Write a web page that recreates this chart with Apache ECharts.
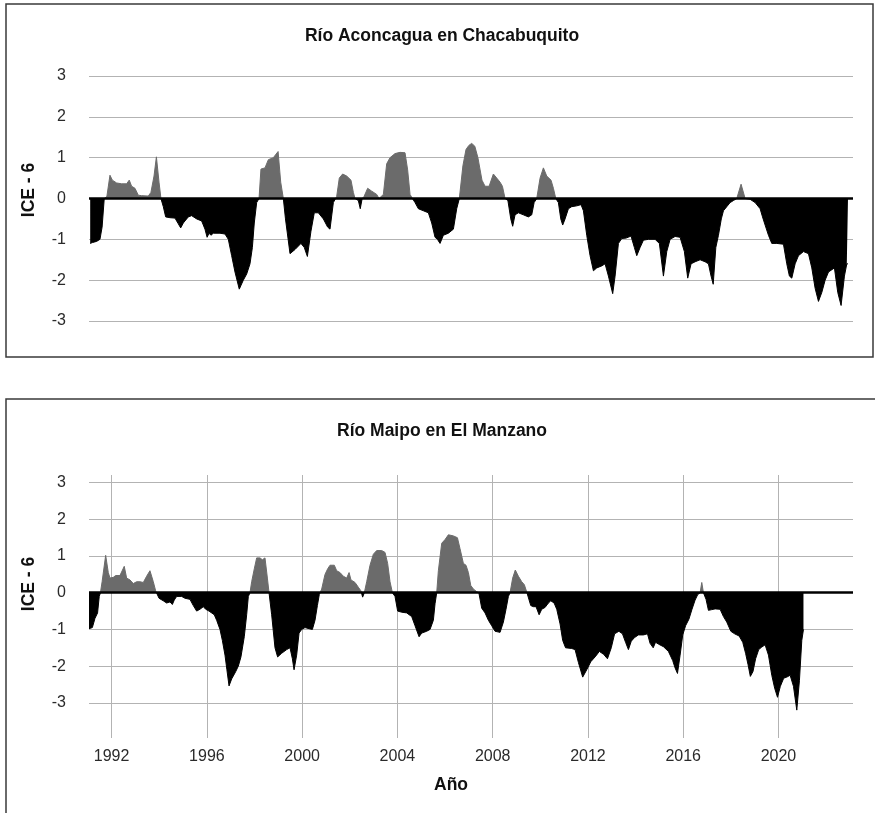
<!DOCTYPE html>
<html><head><meta charset="utf-8">
<script src="https://cdn.jsdelivr.net/npm/echarts@6/dist/echarts.min.js"></script>
<style>html,body{margin:0;padding:0;background:#fff}#c{width:875px;height:813px}</style>
</head><body><div id="c"></div>
<script>
const titles = ['Río Aconcagua en Chacabuquito', 'Río Maipo en El Manzano'];
const yAxisName = 'ICE - 6';
const xAxisName = 'Año';
const yearTicks = [1992, 1996, 2000, 2004, 2008, 2012, 2016, 2020];

const aconcaguaYears = [1991.10,1991.19,1991.37,1991.51,1991.60,1991.69,1991.80,1991.93,1992.03,1992.21,1992.42,1992.63,1992.74,1992.84,1992.98,1993.12,1993.26,1993.54,1993.65,1993.78,1993.88,1993.99,1994.07,1994.17,1994.27,1994.45,1994.66,1994.80,1994.90,1995.01,1995.22,1995.36,1995.57,1995.78,1995.92,1996.01,1996.09,1996.17,1996.27,1996.55,1996.76,1996.90,1997.04,1997.18,1997.36,1997.53,1997.67,1997.81,1997.91,1997.99,1998.09,1998.19,1998.27,1998.44,1998.58,1998.79,1998.99,1999.10,1999.21,1999.30,1999.49,1999.70,1999.95,2000.09,2000.22,2000.37,2000.51,2000.68,2000.89,2001.07,2001.17,2001.31,2001.45,2001.56,2001.70,2001.87,2002.05,2002.15,2002.22,2002.36,2002.44,2002.52,2002.60,2002.75,2002.92,2003.13,2003.23,2003.41,2003.55,2003.69,2003.90,2004.11,2004.32,2004.43,2004.53,2004.63,2004.74,2004.88,2005.09,2005.30,2005.44,2005.58,2005.68,2005.79,2005.93,2006.14,2006.35,2006.49,2006.60,2006.75,2006.88,2007.00,2007.12,2007.25,2007.38,2007.55,2007.68,2007.85,2008.03,2008.17,2008.31,2008.41,2008.52,2008.64,2008.76,2008.84,2008.94,2009.08,2009.29,2009.50,2009.64,2009.74,2009.85,2009.99,2010.13,2010.27,2010.45,2010.55,2010.65,2010.76,2010.86,2010.94,2011.04,2011.18,2011.32,2011.53,2011.71,2011.81,2011.95,2012.09,2012.23,2012.37,2012.58,2012.72,2012.86,2013.04,2013.14,2013.28,2013.42,2013.60,2013.81,2013.95,2014.05,2014.19,2014.33,2014.54,2014.82,2015.00,2015.17,2015.31,2015.45,2015.66,2015.87,2016.05,2016.19,2016.33,2016.50,2016.71,2016.92,2017.06,2017.17,2017.26,2017.37,2017.48,2017.60,2017.69,2017.83,2017.97,2018.11,2018.25,2018.43,2018.60,2018.81,2019.02,2019.23,2019.33,2019.44,2019.58,2019.72,2019.93,2020.21,2020.35,2020.46,2020.56,2020.70,2020.84,2021.05,2021.26,2021.40,2021.54,2021.68,2021.82,2021.96,2022.10,2022.35,2022.49,2022.63,2022.77,2022.87,2022.92];
const aconcaguaValues = [-1.10,-1.08,-1.05,-1.00,-0.70,0.00,0.05,0.57,0.45,0.38,0.36,0.36,0.45,0.30,0.25,0.08,0.07,0.06,0.15,0.55,1.02,0.40,0.00,-0.20,-0.45,-0.47,-0.48,-0.62,-0.72,-0.60,-0.45,-0.42,-0.50,-0.55,-0.75,-0.95,-0.85,-0.90,-0.85,-0.85,-0.87,-1.00,-1.40,-1.80,-2.22,-2.00,-1.85,-1.60,-1.20,-0.60,-0.10,0.00,0.72,0.75,0.95,1.00,1.15,0.40,0.00,-0.50,-1.35,-1.25,-1.10,-1.20,-1.42,-0.80,-0.35,-0.35,-0.50,-0.70,-0.75,-0.10,0.05,0.50,0.60,0.55,0.45,0.15,0.00,-0.05,-0.25,0.00,0.05,0.25,0.18,0.10,0.00,0.10,0.85,1.00,1.10,1.13,1.12,0.70,0.10,0.00,-0.10,-0.25,-0.30,-0.35,-0.60,-0.95,-1.00,-1.10,-0.90,-0.85,-0.75,-0.25,0.00,0.80,1.20,1.30,1.35,1.28,1.00,0.45,0.30,0.30,0.60,0.50,0.40,0.30,0.00,-0.05,-0.50,-0.68,-0.40,-0.35,-0.40,-0.45,-0.40,-0.10,0.00,0.50,0.75,0.55,0.45,0.25,0.00,-0.10,-0.50,-0.65,-0.50,-0.25,-0.20,-0.18,-0.15,-0.30,-0.90,-1.40,-1.77,-1.70,-1.65,-1.60,-1.90,-2.33,-1.90,-1.10,-0.98,-0.97,-0.92,-1.20,-1.40,-1.20,-1.02,-1.00,-1.00,-1.10,-1.90,-1.30,-1.00,-0.93,-0.95,-1.30,-1.95,-1.60,-1.55,-1.50,-1.55,-1.60,-1.90,-2.10,-1.20,-0.90,-0.50,-0.30,-0.20,-0.10,-0.05,0.00,0.35,0.00,-0.02,-0.10,-0.25,-0.45,-0.65,-0.90,-1.10,-1.10,-1.12,-1.60,-1.90,-1.95,-1.60,-1.40,-1.30,-1.35,-1.70,-2.20,-2.52,-2.30,-2.00,-1.80,-1.70,-2.30,-2.62,-1.90,-1.60,-1.60];

const maipoYears = [1991.05,1991.19,1991.30,1991.41,1991.48,1991.53,1991.60,1991.75,1991.86,1991.93,1992.07,1992.17,1992.35,1992.42,1992.53,1992.63,1992.77,1992.91,1993.05,1993.19,1993.33,1993.47,1993.61,1993.75,1993.85,1993.93,1993.99,1994.17,1994.31,1994.45,1994.55,1994.63,1994.73,1994.94,1995.08,1995.29,1995.43,1995.57,1995.71,1995.85,1995.95,1996.09,1996.20,1996.31,1996.41,1996.55,1996.65,1996.76,1996.84,1996.93,1997.04,1997.21,1997.32,1997.43,1997.57,1997.67,1997.74,1997.81,1997.88,1997.99,1998.09,1998.23,1998.33,1998.44,1998.54,1998.61,1998.72,1998.86,1998.97,1999.14,1999.35,1999.49,1999.59,1999.66,1999.77,1999.87,1999.98,2000.12,2000.29,2000.43,2000.54,2000.64,2000.72,2000.82,2000.96,2001.07,2001.17,2001.35,2001.45,2001.59,2001.73,2001.87,2001.97,2002.05,2002.22,2002.36,2002.47,2002.54,2002.61,2002.71,2002.85,2002.99,2003.13,2003.34,2003.48,2003.59,2003.69,2003.79,2003.90,2004.01,2004.18,2004.39,2004.60,2004.74,2004.91,2005.02,2005.23,2005.37,2005.51,2005.58,2005.65,2005.72,2005.86,2006.00,2006.14,2006.35,2006.52,2006.63,2006.77,2006.88,2006.98,2007.08,2007.19,2007.33,2007.42,2007.54,2007.68,2007.82,2007.96,2008.10,2008.31,2008.45,2008.56,2008.66,2008.73,2008.84,2008.95,2009.08,2009.22,2009.33,2009.43,2009.50,2009.60,2009.71,2009.82,2009.95,2010.06,2010.20,2010.34,2010.44,2010.58,2010.69,2010.83,2010.94,2011.06,2011.32,2011.46,2011.60,2011.78,2011.95,2012.12,2012.30,2012.48,2012.66,2012.82,2012.98,2013.12,2013.30,2013.45,2013.58,2013.70,2013.82,2013.96,2014.12,2014.33,2014.50,2014.61,2014.74,2014.84,2014.96,2015.17,2015.38,2015.56,2015.66,2015.76,2015.87,2015.98,2016.10,2016.24,2016.37,2016.50,2016.61,2016.71,2016.78,2016.85,2016.96,2017.06,2017.20,2017.34,2017.55,2017.69,2017.83,2018.00,2018.16,2018.35,2018.50,2018.62,2018.72,2018.82,2018.93,2019.04,2019.17,2019.30,2019.44,2019.58,2019.72,2019.84,2019.96,2020.08,2020.22,2020.35,2020.49,2020.63,2020.77,2020.88,2020.98,2021.05];
const maipoValues = [-0.98,-0.95,-0.70,-0.55,-0.10,0.00,0.30,1.02,0.55,0.40,0.42,0.47,0.47,0.45,0.72,0.40,0.35,0.25,0.30,0.30,0.28,0.45,0.60,0.30,0.05,0.00,-0.15,-0.22,-0.28,-0.25,-0.32,-0.20,-0.10,-0.10,-0.15,-0.18,-0.35,-0.50,-0.45,-0.38,-0.45,-0.50,-0.55,-0.60,-0.75,-1.00,-1.30,-1.70,-2.10,-2.54,-2.35,-2.15,-2.00,-1.75,-1.20,-0.60,-0.10,0.00,0.30,0.65,0.95,0.95,0.90,0.95,0.40,0.00,-0.60,-1.50,-1.75,-1.65,-1.55,-1.50,-1.80,-2.10,-1.70,-1.10,-1.00,-0.95,-0.98,-1.00,-0.75,-0.35,-0.05,0.10,0.50,0.65,0.75,0.75,0.60,0.55,0.45,0.40,0.55,0.35,0.28,0.15,0.05,-0.12,0.00,0.30,0.75,1.05,1.15,1.15,1.10,0.80,0.30,0.00,-0.10,-0.50,-0.53,-0.55,-0.65,-0.90,-1.20,-1.10,-1.05,-1.00,-0.75,-0.30,0.00,0.60,1.35,1.45,1.58,1.55,1.50,1.20,0.80,0.75,0.55,0.20,0.10,0.03,0.00,-0.42,-0.55,-0.75,-0.90,-1.05,-1.08,-0.80,-0.45,-0.10,0.00,0.40,0.62,0.45,0.30,0.22,0.02,0.00,-0.35,-0.38,-0.38,-0.60,-0.45,-0.40,-0.28,-0.22,-0.28,-0.45,-0.85,-1.30,-1.50,-1.52,-1.55,-1.90,-2.30,-2.10,-1.88,-1.75,-1.60,-1.68,-1.80,-1.50,-1.12,-1.05,-1.12,-1.35,-1.55,-1.32,-1.22,-1.15,-1.15,-1.12,-1.38,-1.50,-1.35,-1.40,-1.47,-1.60,-1.85,-2.05,-2.20,-1.70,-1.15,-0.90,-0.72,-0.45,-0.20,-0.05,0.00,0.28,0.00,-0.18,-0.48,-0.46,-0.44,-0.45,-0.65,-0.80,-1.05,-1.12,-1.18,-1.35,-1.65,-1.95,-2.28,-2.15,-1.80,-1.55,-1.48,-1.42,-1.70,-2.25,-2.60,-2.85,-2.55,-2.33,-2.30,-2.25,-2.55,-3.20,-2.40,-1.30,-1.00];

const zip = (xs, ys) => xs.map((x, i) => [x, ys[i]]);
const NEG = '#000000', POS = '#6b6b6b';
const boldFont = "bold 17.5px 'Liberation Sans', Arial, sans-serif";
const tickFont = { fontFamily: "'Liberation Sans', Arial, sans-serif", fontSize: 16, color: '#2a2a2a' };
const gridLine = { show: true, lineStyle: { color: '#b3b3b3', width: 1 } };

// two-tone fill: grey above zero, black below (split at the zero level of the series' own extent)
function splitGradient(values) {
  const hi = Math.max(0, ...values), lo = Math.min(0, ...values);
  const f = hi / (hi - lo);
  return new echarts.graphic.LinearGradient(0, 0, 0, 1, [
    { offset: 0, color: POS }, { offset: f, color: POS },
    { offset: f, color: NEG }, { offset: 1, color: NEG }
  ]);
}

function areaSeries(idx, xs, ys) {
  const g = splitGradient(ys);
  return {
    type: 'line', xAxisIndex: idx, yAxisIndex: idx, data: zip(xs, ys),
    symbol: 'none', showSymbol: false,
    itemStyle: { color: g },
    lineStyle: { width: 1, color: g },
    areaStyle: { opacity: 1, color: g },
    markLine: {
      silent: true, symbol: ['none', 'none'], label: { show: false },
      lineStyle: { color: '#000', width: 2.5, type: 'solid' },
      data: [{ yAxis: 0 }]
    }
  };
}

const chart = echarts.init(document.getElementById('c'), null, { renderer: 'canvas' });
chart.setOption({
  animation: false,
  backgroundColor: '#fff',
  grid: [
    { left: 89, right: 22, top: 76, height: 245 },
    { left: 89, right: 22, top: 475, height: 263 }
  ],
  xAxis: [
    { type: 'value', gridIndex: 0, min: 1991.05, max: 2023.13, show: false },
    { type: 'value', gridIndex: 1, min: 1991.05, max: 2023.13,
      axisLine: { show: false }, axisTick: { show: false, customValues: yearTicks },
      axisLabel: { customValues: yearTicks, margin: 11, formatter: v => String(Math.round(v)), ...tickFont },
      splitLine: gridLine }
  ],
  yAxis: [
    { type: 'value', gridIndex: 0, min: -3, max: 3, interval: 1,
      axisLine: { show: false }, axisTick: { show: false },
      axisLabel: { margin: 23, ...tickFont }, splitLine: gridLine },
    { type: 'value', gridIndex: 1, min: -3.96, max: 3.21, splitNumber: 7,
      axisLine: { show: false }, axisTick: { show: false },
      axisLabel: { margin: 23, showMinLabel: false, showMaxLabel: false, ...tickFont },
      splitLine: { show: true, showMinLine: false, showMaxLine: false, lineStyle: { color: '#b3b3b3', width: 1 } } }
  ],
  series: [
    areaSeries(0, aconcaguaYears, aconcaguaValues),
    areaSeries(1, maipoYears, maipoValues)
  ],
  graphic: [
    { type: 'rect', shape: { x: 6, y: 4, width: 867, height: 353 }, style: { fill: 'none', stroke: '#3a3a3a', lineWidth: 1.5 }, silent: true },
    { type: 'rect', shape: { x: 6, y: 399, width: 900, height: 440 }, style: { fill: 'none', stroke: '#3a3a3a', lineWidth: 1.5 }, silent: true },
    { type: 'text', x: 442, y: 36, style: { text: titles[0], font: boldFont, fill: '#111', align: 'center', verticalAlign: 'middle' } },
    { type: 'text', x: 442, y: 431, style: { text: titles[1], font: boldFont, fill: '#111', align: 'center', verticalAlign: 'middle' } },
    { type: 'text', x: 29, y: 190, rotation: Math.PI / 2, style: { text: yAxisName, font: boldFont, fill: '#111', align: 'center', verticalAlign: 'middle' } },
    { type: 'text', x: 29, y: 584, rotation: Math.PI / 2, style: { text: yAxisName, font: boldFont, fill: '#111', align: 'center', verticalAlign: 'middle' } },
    { type: 'text', x: 451, y: 785, style: { text: xAxisName, font: boldFont, fill: '#111', align: 'center', verticalAlign: 'middle' } }
  ]
});
</script>
</body></html>
